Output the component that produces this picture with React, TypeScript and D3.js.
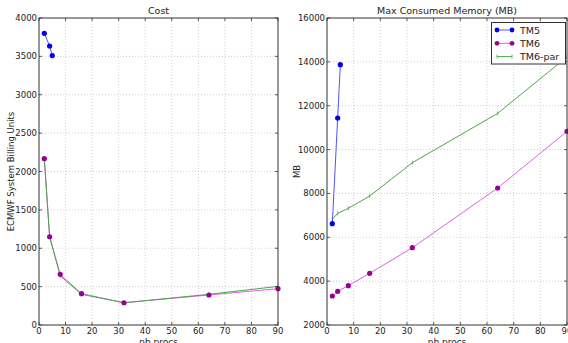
import React from "react";
import * as d3 from "d3";

const procsTM5 = [2, 4, 5];
const procsTM6 = [2, 4, 8, 16, 32, 64, 90];

const costTM5 = [3800, 3635, 3510];
const costTM6 = [2167, 1150, 660, 408, 290, 391, 473];
const costTM6par = [2167, 1150, 640, 400, 290, 400, 503];

const memTM5 = [6620, 11440, 13870];
const memTM6 = [3322, 3537, 3793, 4357, 5525, 8247, 10833];
const memTM6par = [6830, 7090, 7320, 7880, 9400, 11650, 14230];

const xTicks = [0, 10, 20, 30, 40, 50, 60, 70, 80, 90];
const costTicks = [0, 500, 1000, 1500, 2000, 2500, 3000, 3500, 4000];
const memTicks = [2000, 4000, 6000, 8000, 10000, 12000, 14000, 16000];

const legendLabels = ["TM5", "TM6", "TM6-par"];

const C_TM5_M = "#0000ee";
const C_TM5_L = "#5050ff";
const C_TM6_M = "#990099";
const C_TM6_L = "#e060e0";
const C_PAR = "#4aa84a";

const FONT = "DejaVu Sans, sans-serif";

type PanelProps = {
  left: number;
  right: number;
  title: string;
  ylabel: string;
  ylabelX: number;
  yDomain: [number, number];
  yTicks: number[];
  tm5: number[];
  tm6: number[];
  par: number[];
  legend?: boolean;
};

function Panel(p: PanelProps) {
  const top = 18;
  const bottom = 325;
  const x = d3.scaleLinear().domain([0, 90]).range([p.left, p.right]);
  const y = d3.scaleLinear().domain(p.yDomain).range([bottom, top]);
  const line = d3
    .line<[number, number]>()
    .x((d) => x(d[0]))
    .y((d) => y(d[1]));
  const tm5pts = procsTM5.map((v, i) => [v, p.tm5[i]] as [number, number]);
  const tm6pts = procsTM6.map((v, i) => [v, p.tm6[i]] as [number, number]);
  const parpts = procsTM6.map((v, i) => [v, p.par[i]] as [number, number]);
  const midX = (p.left + p.right) / 2;
  const midY = (top + bottom) / 2;
  return (
    <g>
      <defs>
        <clipPath id={"clip" + p.left}>
          <rect x={p.left} y={top} width={p.right - p.left} height={bottom - top} />
        </clipPath>
      </defs>
      {xTicks.slice(1, -1).map((t) => (
        <line key={"gx" + t} x1={x(t)} x2={x(t)} y1={top} y2={bottom} stroke="#b0b0b0" strokeWidth={0.6} strokeDasharray="1,2" />
      ))}
      {p.yTicks.slice(1, -1).map((t) => (
        <line key={"gy" + t} x1={p.left} x2={p.right} y1={y(t)} y2={y(t)} stroke="#b0b0b0" strokeWidth={0.6} strokeDasharray="1,2" />
      ))}
      <g clipPath={`url(#clip${p.left})`}>
        <path d={line(tm6pts) || ""} fill="none" stroke={C_TM6_L} strokeWidth={1} />
        <path d={line(parpts) || ""} fill="none" stroke={C_PAR} strokeWidth={1} />
        {parpts.map((d, i) => (
          <line key={"pm" + i} x1={x(d[0])} x2={x(d[0])} y1={y(d[1]) - 2} y2={y(d[1]) + 2} stroke={C_PAR} strokeWidth={0.8} />
        ))}
        <path d={line(tm5pts) || ""} fill="none" stroke={C_TM5_L} strokeWidth={1} />
      </g>
      {tm6pts.map((d, i) => (
        <circle key={"t6" + i} cx={x(d[0])} cy={y(d[1])} r={2.6} fill={C_TM6_M} />
      ))}
      {tm5pts.map((d, i) => (
        <circle key={"t5" + i} cx={x(d[0])} cy={y(d[1])} r={2.6} fill={C_TM5_M} />
      ))}
      <rect x={p.left} y={top} width={p.right - p.left} height={bottom - top} fill="none" stroke="#333" strokeWidth={1} />
      {xTicks.map((t) => (
        <g key={"xt" + t}>
          <line x1={x(t)} x2={x(t)} y1={bottom} y2={bottom - 3} stroke="#333" strokeWidth={0.8} />
          <line x1={x(t)} x2={x(t)} y1={top} y2={top + 3} stroke="#333" strokeWidth={0.8} />
          <text x={x(t)} y={bottom + 9} fontSize={8.5} textAnchor="middle" fill="#222" fontFamily={FONT}>
            {t}
          </text>
        </g>
      ))}
      {p.yTicks.map((t) => (
        <g key={"yt" + t}>
          <line x1={p.left} x2={p.left + 3} y1={y(t)} y2={y(t)} stroke="#333" strokeWidth={0.8} />
          <line x1={p.right} x2={p.right - 3} y1={y(t)} y2={y(t)} stroke="#333" strokeWidth={0.8} />
          <text x={p.left - 2} y={y(t) + 3} fontSize={8.5} textAnchor="end" fill="#222" fontFamily={FONT}>
            {t}
          </text>
        </g>
      ))}
      <text x={midX} y={14} fontSize={9.5} textAnchor="middle" fill="#222" fontFamily={FONT}>
        {p.title}
      </text>
      <text x={midX} y={345} fontSize={9} textAnchor="middle" fill="#222" fontFamily={FONT}>
        nb procs
      </text>
      <text
        transform={`translate(${p.ylabelX},${midY}) rotate(-90)`}
        fontSize={8.5}
        textAnchor="middle"
        fill="#222"
        fontFamily={FONT}
      >
        {p.ylabel}
      </text>
      {p.legend && (
        <g>
          <rect x={491.5} y={22.5} width={74} height={41.5} fill="white" stroke="#333" strokeWidth={1} />
          {legendLabels.map((lab, i) => {
            const ly = 30 + i * 13.3;
            const col = i === 0 ? C_TM5_L : i === 1 ? C_TM6_L : C_PAR;
            const mc = i === 0 ? C_TM5_M : C_TM6_M;
            return (
              <g key={lab}>
                <line x1={497} x2={512} y1={ly} y2={ly} stroke={col} strokeWidth={1} />
                {i < 2 ? (
                  <>
                    <circle cx={497} cy={ly} r={2.4} fill={mc} />
                    <circle cx={512} cy={ly} r={2.4} fill={mc} />
                  </>
                ) : (
                  <>
                    <line x1={497} x2={497} y1={ly - 2} y2={ly + 2} stroke={C_PAR} strokeWidth={0.8} />
                    <line x1={512} x2={512} y1={ly - 2} y2={ly + 2} stroke={C_PAR} strokeWidth={0.8} />
                  </>
                )}
                <text x={520} y={ly + 3.5} fontSize={9.5} fill="#222" fontFamily={FONT}>
                  {lab}
                </text>
              </g>
            );
          })}
        </g>
      )}
    </g>
  );
}

export default function App() {
  return (
    <svg
      width={568}
      height={343}
      style={{ position: "absolute", left: 0, top: 0, background: "white" }}
    >
      <rect width={568} height={343} fill="white" />
      <Panel
        left={39}
        right={278}
        title="Cost"
        ylabel="ECMWF System Billing Units"
        ylabelX={14}
        yDomain={[0, 4000]}
        yTicks={costTicks}
        tm5={costTM5}
        tm6={costTM6}
        par={costTM6par}
      />
      <Panel
        left={327}
        right={567}
        title="Max Consumed Memory (MB)"
        ylabel="MB"
        ylabelX={300}
        yDomain={[2000, 16000]}
        yTicks={memTicks}
        tm5={memTM5}
        tm6={memTM6}
        par={memTM6par}
        legend
      />
    </svg>
  );
}
